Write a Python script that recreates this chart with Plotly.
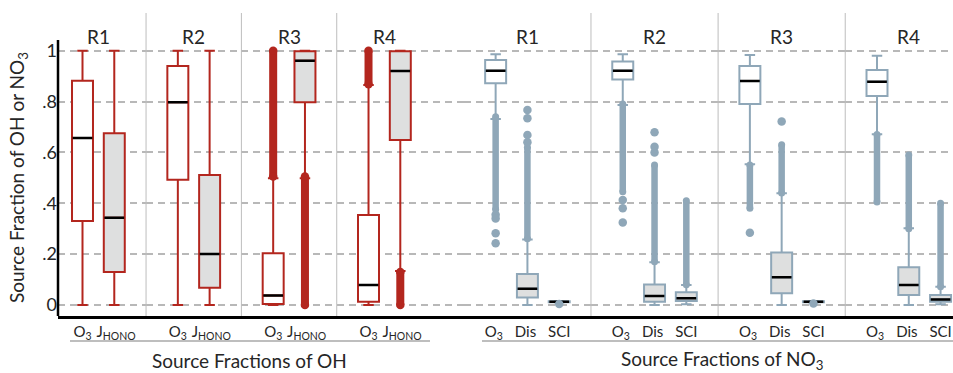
import plotly.graph_objects as go

# ---------------- data ----------------
regions = ["R1", "R2", "R3", "R4"]
oh_sources = ["O<sub>3</sub>", "J<sub>HONO</sub>"]
no3_sources = ["O<sub>3</sub>", "Dis", "SCI"]
oh_tick_text = ["O<sub>3</sub>", "\u00a0J<sub>HONO</sub>"]
no3_tick_text = ["O<sub>3</sub>\u00a0", "Dis\u00a0", "SCI"]
y_tickvals = [0, 0.2, 0.4, 0.6, 0.8, 1.0]
y_ticktext = ["0", ".2", ".4", ".6", ".8", "1"]

# OH source fractions: rows = R1..R4, columns = [O3, J_HONO]
oh_lowerfence = [[0.0, 0.0], [0.0, 0.0], [0.0, 0.498], [0.0, 0.134]]
oh_q1 = [[0.330, 0.130], [0.492, 0.068], [0.004, 0.797], [0.013, 0.649]]
oh_median = [[0.657, 0.343], [0.797, 0.200], [0.037, 0.960], [0.079, 0.920]]
oh_q3 = [[0.882, 0.675], [0.940, 0.511], [0.203, 0.998], [0.354, 0.998]]
oh_upperfence = [[1.0, 1.0], [1.0, 1.0], [0.498, 1.0], [0.865, 1.0]]
# dense runs of outliers [low, high]
oh_outlier_range = [[None, None], [None, None],
                    [[0.505, 1.0], [0.0, 0.505]],
                    [[0.868, 1.0], [0.0, 0.13]]]
oh_outlier_points = [[[], []], [[], []], [[], []], [[], []]]

# NO3 source fractions: rows = R1..R4, columns = [O3, Dis, SCI]
no3_lowerfence = [[0.731, 0.0, 0.010], [0.786, 0.0, 0.003], [0.553, 0.0, 0.010], [0.671, 0.0, 0.003]]
no3_q1 = [[0.872, 0.029, 0.011], [0.887, 0.013, 0.016], [0.790, 0.046, 0.011], [0.822, 0.039, 0.013]]
no3_median = [[0.921, 0.064, 0.013], [0.921, 0.035, 0.026], [0.881, 0.109, 0.013], [0.878, 0.079, 0.022]]
no3_q3 = [[0.963, 0.122, 0.015], [0.957, 0.081, 0.050], [0.940, 0.206, 0.015], [0.924, 0.148, 0.039]]
no3_upperfence = [[0.986, 0.257, 0.016], [0.986, 0.168, 0.079], [0.983, 0.439, 0.016], [0.980, 0.302, 0.072]]
no3_outlier_range = [[[0.375, 0.74], [0.26, 0.62], None],
                     [[0.445, 0.79], [0.17, 0.55], [0.08, 0.41]],
                     [[0.38, 0.55], [0.44, 0.63], None],
                     [[0.405, 0.67], [0.30, 0.59], [0.072, 0.40]]]
no3_outlier_points = [[[0.355, 0.34, 0.282, 0.243], [0.64, 0.668, 0.734, 0.767], [0.004]],
                      [[0.413, 0.38, 0.324], [0.60, 0.622, 0.679], []],
                      [[0.284], [0.721], [0.006]],
                      [[], [], []]]

# ---------------- styling / layout ----------------
RED = "#b3261e"
BLUE = "#8fa7b8"
GRAYFILL = "#dedfdf"
TEXT = "#262626"
FONT = "Lato"

W, H = 953, 373
PL, PR, PT, PB = 58, 953, 13, 316          # plot area in pixels
Y_RANGE = [-0.0433, 1.148]
SLOT = 31.78                                # pixel spacing between box slots
FIRST = 82.5                                # pixel centre of first box
slot_left = (PL - FIRST) / SLOT
slot_right = (PR - FIRST) / SLOT
panel_edges = [slot_left, 2, 5, 8, 12, 16, 20, 24, slot_right]
panel_first_slot = [0, 3, 6, 9, 13, 17, 21, 25]
separators = [1, 2, 3, 5, 6, 7]


def px_to_paper_x(px):
    return (px - PL) / (PR - PL)


def px_to_paper_y(py):
    return (PB - py) / (PB - PT)


def slot_to_paper(s):
    return px_to_paper_x(FIRST + s * SLOT)


panels = [("oh", i) for i in range(4)] + [("no3", i) for i in range(4)]

fig = go.Figure()
layout_axes = {}
annotations = []
shapes = []

for p, (grp, r) in enumerate(panels):
    xname = "x" if p == 0 else f"x{p + 1}"
    axkey = "xaxis" if p == 0 else f"xaxis{p + 1}"
    if grp == "oh":
        cats, ttext = oh_sources, oh_tick_text
        lf, q1, md, q3, uf = oh_lowerfence[r], oh_q1[r], oh_median[r], oh_q3[r], oh_upperfence[r]
        orng, opts = oh_outlier_range[r], oh_outlier_points[r]
        color = RED
        fills = ["white", GRAYFILL]
        lw_out, ms_out = 8, 8
    else:
        cats, ttext = no3_sources, no3_tick_text
        lf, q1, md, q3, uf = no3_lowerfence[r], no3_q1[r], no3_median[r], no3_q3[r], no3_upperfence[r]
        orng, opts = no3_outlier_range[r], no3_outlier_points[r]
        color = BLUE
        fills = ["white", GRAYFILL, GRAYFILL]
        lw_out, ms_out = 6.5, 8.5

    for k, cat in enumerate(cats):
        fig.add_trace(go.Box(
            x=[cat], q1=[q1[k]], median=[md[k]], q3=[q3[k]],
            lowerfence=[lf[k]], upperfence=[uf[k]],
            boxpoints=False, width=0.66, whiskerwidth=0.5,
            line=dict(color=color, width=2), fillcolor=fills[k],
            xaxis=xname, yaxis="y", showlegend=False, hoverinfo="skip"))
        if orng[k] is not None:
            fig.add_trace(go.Scatter(
                x=[cat, cat], y=orng[k], mode="lines+markers",
                line=dict(color=color, width=lw_out),
                marker=dict(color=color, size=lw_out + 0.5),
                xaxis=xname, yaxis="y", showlegend=False, hoverinfo="skip"))
        if opts[k]:
            fig.add_trace(go.Scatter(
                x=[cat] * len(opts[k]), y=opts[k], mode="markers",
                marker=dict(color=color, size=ms_out),
                xaxis=xname, yaxis="y", showlegend=False, hoverinfo="skip"))
        # black median bar
        fig.add_trace(go.Box(
            x=[cat], q1=[md[k]], median=[md[k]], q3=[md[k]],
            lowerfence=[md[k]], upperfence=[md[k]],
            boxpoints=False, width=0.62, whiskerwidth=0,
            line=dict(color="black", width=2.5), fillcolor="rgba(0,0,0,0)",
            xaxis=xname, yaxis="y", showlegend=False, hoverinfo="skip"))

    e0, e1 = panel_edges[p], panel_edges[p + 1]
    f = panel_first_slot[p]
    layout_axes[axkey] = dict(
        domain=[slot_to_paper(e0) if p else 0.0, slot_to_paper(e1) if p < 7 else 1.0],
        range=[e0 - f, e1 - f], type="category", categoryorder="array",
        categoryarray=cats, tickvals=cats, ticktext=ttext,
        anchor="y", showgrid=False, zeroline=False,
        showline=True, linecolor="black", linewidth=2.5, ticks="",
        tickangle=0, automargin=False,
        tickfont=dict(family=FONT, size=15, color=TEXT), fixedrange=True)

    annotations.append(dict(
        text=regions[r], xref=xname, yref="y", x=(len(cats) - 1) / 2, y=1.054,
        showarrow=False, font=dict(family=FONT, size=19, color=TEXT),
        xanchor="center", yanchor="middle"))

for s in separators:
    xs = slot_to_paper(panel_edges[s])
    shapes.append(dict(type="line", xref="paper", yref="paper", x0=xs, x1=xs,
                       y0=0, y1=1, line=dict(color="#bdbdbd", width=1)))

# y axis line
shapes.append(dict(type="line", xref="paper", yref="y", x0=0, x1=0,
                   y0=Y_RANGE[0], y1=1.042, line=dict(color="black", width=2.5)))

# group brackets and titles
for x0px, x1px, title, cx in [(70, 430, "Source Fractions of OH", 249),
                              (482, 953, "Source Fractions of NO<sub>3</sub>", 722)]:
    shapes.append(dict(type="line", xref="paper", yref="paper",
                       x0=px_to_paper_x(x0px), x1=px_to_paper_x(x1px),
                       y0=px_to_paper_y(341), y1=px_to_paper_y(341),
                       line=dict(color="#a8a8a8", width=1.5)))
    annotations.append(dict(text=title, xref="paper", yref="paper",
                            x=px_to_paper_x(cx), y=px_to_paper_y(360),
                            showarrow=False, xanchor="center", yanchor="middle",
                            font=dict(family=FONT, size=19, color=TEXT)))

annotations.append(dict(text="Source Fraction of OH or NO<sub>3</sub>",
                        xref="paper", yref="paper", x=px_to_paper_x(18),
                        y=px_to_paper_y(178), textangle=-90, showarrow=False,
                        xanchor="center", yanchor="middle",
                        font=dict(family=FONT, size=19, color=TEXT)))

fig.update_layout(
    width=W, height=H,
    margin=dict(l=PL, r=W - PR, t=PT, b=H - PB, pad=0, autoexpand=False),
    paper_bgcolor="white", plot_bgcolor="white",
    boxmode="overlay", showlegend=False,
    yaxis=dict(range=Y_RANGE, tickvals=y_tickvals, ticktext=y_ticktext,
               showgrid=True, gridcolor="#b8b8b8", gridwidth=1.5,
               griddash="7px,5px", zeroline=False, showline=False, ticks="",
               automargin=False,
               tickfont=dict(family=FONT, size=18, color=TEXT),
               anchor="x", fixedrange=True),
    annotations=annotations, shapes=shapes,
    **layout_axes)

fig.write_html("out.html", config={"displayModeBar": False},
               post_script="document.body.style.margin='0px';"
                           "document.body.style.overflow='hidden';")
